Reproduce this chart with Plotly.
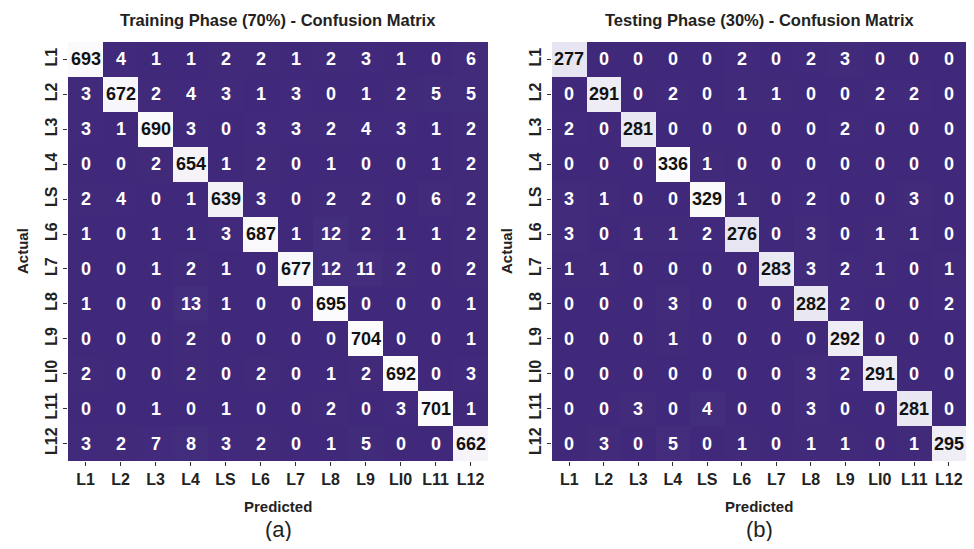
import plotly.graph_objects as go

labels = ["L1", "L2", "L3", "L4", "LS", "L6", "L7", "L8", "L9", "LI0", "L11", "L12"]

train_cm = [
    [693, 4, 1, 1, 2, 2, 1, 2, 3, 1, 0, 6],
    [3, 672, 2, 4, 3, 1, 3, 0, 1, 2, 5, 5],
    [3, 1, 690, 3, 0, 3, 3, 2, 4, 3, 1, 2],
    [0, 0, 2, 654, 1, 2, 0, 1, 0, 0, 1, 2],
    [2, 4, 0, 1, 639, 3, 0, 2, 2, 0, 6, 2],
    [1, 0, 1, 1, 3, 687, 1, 12, 2, 1, 1, 2],
    [0, 0, 1, 2, 1, 0, 677, 12, 11, 2, 0, 2],
    [1, 0, 0, 13, 1, 0, 0, 695, 0, 0, 0, 1],
    [0, 0, 0, 2, 0, 0, 0, 0, 704, 0, 0, 1],
    [2, 0, 0, 2, 0, 2, 0, 1, 2, 692, 0, 3],
    [0, 0, 1, 0, 1, 0, 0, 2, 0, 3, 701, 1],
    [3, 2, 7, 8, 3, 2, 0, 1, 5, 0, 0, 662],
]

test_cm = [
    [277, 0, 0, 0, 0, 2, 0, 2, 3, 0, 0, 0],
    [0, 291, 0, 2, 0, 1, 1, 0, 0, 2, 2, 0],
    [2, 0, 281, 0, 0, 0, 0, 0, 2, 0, 0, 0],
    [0, 0, 0, 336, 1, 0, 0, 0, 0, 0, 0, 0],
    [3, 1, 0, 0, 329, 1, 0, 2, 0, 0, 3, 0],
    [3, 0, 1, 1, 2, 276, 0, 3, 0, 1, 1, 0],
    [1, 1, 0, 0, 0, 0, 283, 3, 2, 1, 0, 1],
    [0, 0, 0, 3, 0, 0, 0, 282, 2, 0, 0, 2],
    [0, 0, 0, 1, 0, 0, 0, 0, 292, 0, 0, 0],
    [0, 0, 0, 0, 0, 0, 0, 3, 2, 291, 0, 0],
    [0, 0, 3, 0, 4, 0, 0, 3, 0, 0, 281, 0],
    [0, 3, 0, 5, 0, 1, 0, 1, 1, 0, 1, 295],
]

titles = ["Training Phase (70%) - Confusion Matrix", "Testing Phase (30%) - Confusion Matrix"]
panel_tags = ["(a)", "(b)"]

cscale = [
    [0.0, "#40297a"],
    [0.5, "#9e9ac8"],
    [0.75, "#dadaeb"],
    [0.875, "#efedf5"],
    [1.0, "#fcfbfd"],
]

# window is 974x549; page body has an 8px margin on every side
WIN_W, WIN_H, OFF = 974, 549, 8
W, H = WIN_W - 2 * OFF, WIN_H - 2 * OFF


def px_x(px):
    return (px - OFF) / W


def px_y(py):
    return (OFF + H - py) / H


boxes = [(68, 488), (552, 966)]
top_px, bot_px = 42, 461

fig = go.Figure()
annotations = []
font_main = "Liberation Sans, Arial, sans-serif"
dark = "#222222"

for i, cm in enumerate([train_cm, test_cm]):
    xa = "x" if i == 0 else "x2"
    ya = "y" if i == 0 else "y2"
    zmax = max(max(r) for r in cm)
    fig.add_trace(go.Heatmap(
        z=cm, x=labels, y=labels, xaxis=xa, yaxis=ya,
        colorscale=cscale, zmin=0, zmax=zmax, showscale=False,
        hoverinfo="skip",
    ))
    for r, row in enumerate(cm):
        for c, v in enumerate(row):
            frac = v / zmax
            annotations.append(dict(
                x=labels[c], y=labels[r], xref=xa, yref=ya, text=str(v),
                showarrow=False, xanchor="center", yanchor="middle",
                font=dict(family=font_main, size=18, weight=700,
                          color="#111111" if frac > 0.5 else "#ffffff"),
            ))
    x0, x1 = boxes[i]
    cx = px_x((x0 + x1) / 2)
    annotations.append(dict(x=cx, y=px_y(20), xref="paper", yref="paper", text=titles[i],
                            showarrow=False, xanchor="center", yanchor="middle",
                            font=dict(family=font_main, size=16.5, weight=700, color=dark)))
    annotations.append(dict(x=cx, y=px_y(506), xref="paper", yref="paper", text="Predicted",
                            showarrow=False, xanchor="center", yanchor="middle",
                            font=dict(family=font_main, size=15, weight=700, color=dark)))
    annotations.append(dict(x=cx, y=px_y(529), xref="paper", yref="paper", text=panel_tags[i],
                            showarrow=False, xanchor="center", yanchor="middle",
                            font=dict(family=font_main, size=22, color=dark)))
    annotations.append(dict(x=px_x(22 if i == 0 else 506), y=px_y(251), xref="paper", yref="paper",
                            text="Actual", textangle=-90, showarrow=False,
                            xanchor="center", yanchor="middle",
                            font=dict(family=font_main, size=15, weight=700, color=dark)))

axis_common = dict(showgrid=False, zeroline=False, showline=False, ticks="outside",
                   ticklen=4, tickwidth=1, tickcolor="#333333")
tf = dict(family=font_main, size=16, weight=700, color=dark)

ydom = [px_y(bot_px), px_y(top_px)]
fig.update_layout(
    width=W, height=H,
    margin=dict(l=0, r=0, t=0, b=0),
    paper_bgcolor="white", plot_bgcolor="white",
    annotations=annotations,
    xaxis=dict(domain=[px_x(boxes[0][0]), px_x(boxes[0][1])], anchor="y", tickfont=tf, **axis_common),
    yaxis=dict(domain=ydom, anchor="x", autorange="reversed", tickangle=-90, tickfont=tf, **axis_common),
    xaxis2=dict(domain=[px_x(boxes[1][0]), min(1.0, px_x(boxes[1][1]))], anchor="y2", tickfont=tf, **axis_common),
    yaxis2=dict(domain=ydom, anchor="x2", autorange="reversed", tickangle=-90, tickfont=tf, **axis_common),
)

fig.write_html("out.html")
